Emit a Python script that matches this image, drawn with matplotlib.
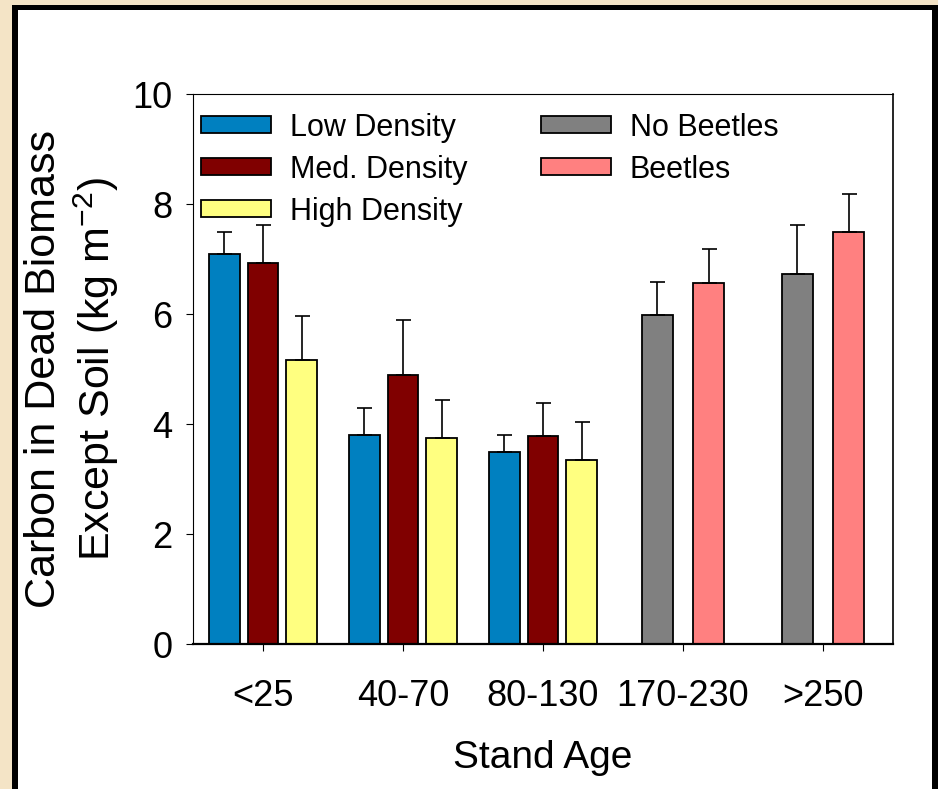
import matplotlib
matplotlib.use("Agg")
import matplotlib.pyplot as plt
from matplotlib.patches import Rectangle
import numpy as np

plt.rcParams['font.family'] = ['Liberation Sans', 'DejaVu Sans']
plt.rcParams['mathtext.fontset'] = 'custom'
plt.rcParams['mathtext.rm'] = 'Liberation Sans'
plt.rcParams['mathtext.it'] = 'Liberation Sans:italic'
plt.rcParams['mathtext.bf'] = 'Liberation Sans:bold'

# ---- data ----
categories = ['<25', '40-70', '80-130', '170-230', '>250']
low_density = [7.10, 3.80, 3.50]
low_err = [0.40, 0.50, 0.30]
med_density = [6.92, 4.89, 3.79]
med_err = [0.70, 1.01, 0.60]
high_density = [5.16, 3.74, 3.35]
high_err = [0.80, 0.70, 0.69]
no_beetles = [5.99, 6.72]
no_beetles_err = [0.59, 0.89]
beetles = [6.57, 7.50]
beetles_err = [0.61, 0.69]
yticks = [0, 2, 4, 6, 8, 10]

W, H = 938, 789
fig = plt.figure(figsize=(W / 100, H / 100), dpi=100)
fig.patch.set_facecolor('#F4E4C6')

# black frame with white panel
fig.patches.append(Rectangle((12 / W, 0), (W - 12) / W, 1 - 5 / H,
                             transform=fig.transFigure, facecolor='black',
                             edgecolor='none', zorder=-3))
fig.patches.append(Rectangle((18 / W, 0), (932 - 18) / W, 1 - 10 / H,
                             transform=fig.transFigure, facecolor='white',
                             edgecolor='none', zorder=-2))

ax = fig.add_axes([193 / W, (H - 644) / H, 700 / W, 550 / H])
ax.set_facecolor('white')

x = np.arange(len(categories))
x3 = x[:3]
x2 = x[3:]
bw = 0.221
off3 = 0.276
off2 = 0.185
ekw = dict(fmt='none', ecolor='black', elinewidth=1.2, capsize=5.4,
           capthick=1.2, zorder=3)
bkw = dict(width=bw, edgecolor='black', linewidth=1.3, zorder=2)

series = [
    (x3 - off3, low_density, low_err, '#0080C0', 'Low Density'),
    (x3, med_density, med_err, '#800000', 'Med. Density'),
    (x3 + off3, high_density, high_err, '#FFFF80', 'High Density'),
    (x2 - off2, no_beetles, no_beetles_err, '#808080', 'No Beetles'),
    (x2 + off2, beetles, beetles_err, '#FF8080', 'Beetles'),
]
handles = []
for xs, vals, errs, col, lab in series:
    b = ax.bar(xs, vals, color=col, label=lab, **bkw)
    handles.append(b)
    ax.errorbar(xs, vals, yerr=[np.zeros(len(errs)), errs], **ekw)

ax.set_xlim(-0.5, 4.5)
ax.set_ylim(0, 10)
ax.set_yticks(yticks)
ax.set_xticks(x)
ax.set_xticklabels(categories)
ax.tick_params(axis='y', direction='out', length=5, width=0.8,
               labelsize=26, pad=10)
ax.tick_params(axis='x', direction='out', length=5, width=0.8,
               labelsize=26, pad=20)
for s in ['left', 'top']:
    ax.spines[s].set_linewidth(0.8)
ax.spines['bottom'].set_linewidth(1.6)
ax.spines['right'].set_linewidth(1.2)

ax.set_xlabel('Stand Age', fontsize=28, labelpad=19)
ax.set_ylabel('Carbon in Dead Biomass\nExcept Soil (kg m$^{-2}$)',
              fontsize=31, linespacing=1.2)
ax.yaxis.set_label_coords(-0.103, 0.5)

leg = ax.legend(handles=handles, ncol=2, loc='upper left',
                bbox_to_anchor=(7.7 / 700, 0.966), frameon=False,
                fontsize=22, borderpad=0, borderaxespad=0,
                handlelength=2.29, handleheight=0.49, handletextpad=0.63,
                columnspacing=2.4, labelspacing=0.39)

fig.savefig('out.png', dpi=100, facecolor=fig.get_facecolor())
